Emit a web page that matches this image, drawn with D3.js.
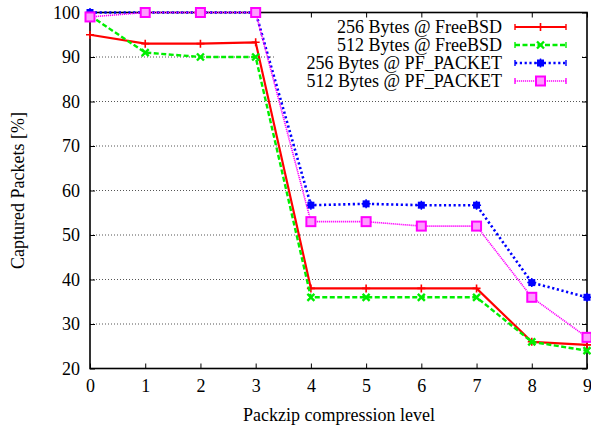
<!DOCTYPE html>
<html><head><meta charset="utf-8">
<script src="https://cdn.jsdelivr.net/npm/d3@7"></script>
<style>body{margin:0;background:#fff}svg{display:block}svg text{font-family:'Liberation Serif','Times New Roman',Times,serif !important;fill:#000}</style>
</head><body><svg id="c" width="591" height="428" style="font-family:'Liberation Serif',serif"></svg>
<script>
const levels = [0,1,2,3,4,5,6,7,8,9];
const xTicks = [0,1,2,3,4,5,6,7,8,9];
const yTicks = [20,30,40,50,60,70,80,90,100];
const seriesNames = ["256 Bytes @ FreeBSD","512 Bytes @ FreeBSD","256 Bytes @ PF_PACKET","512 Bytes @ PF_PACKET"];
const free256 = [95,93,93,93.3,38,38,38,38,26,25.3];
const free512 = [99.3,91,90,90,36,36,36,36,26,24];
const pf256 = [100,100,100,100,56.7,57,56.7,56.7,39.3,36];
const pf512 = [99,100,100,100,53,53,52,52,36,27];

const FONT = "'Liberation Serif','Times New Roman',Times,serif";
const svg = d3.select("#c");
const m = {l:90, r:587, t:12.5, b:368.5};
const x = d3.scaleLinear().domain([0,9]).range([m.l, m.r]);
const y = d3.scaleLinear().domain([20,100]).range([m.b, m.t]);

// grid
const gridVals = yTicks.filter(v => v>20 && v<100);
svg.append("g").selectAll("line").data(gridVals).join("line")
  .attr("x1", m.l).attr("x2", m.r).attr("y1", d=>y(d)).attr("y2", d=>y(d))
  .attr("stroke","#555").attr("stroke-width",1).attr("stroke-dasharray","1,2");
// legend background (opaque)
svg.append("rect").attr("x",276).attr("y",14).attr("width",304).attr("height",76).attr("fill","#fff");

// axes
const fs = 18;
const ax = svg.append("g").attr("transform",`translate(0,${m.b})`)
  .call(d3.axisBottom(x).tickValues(xTicks).tickFormat(d3.format("d")).tickSize(-5).tickPadding(11));
const axT = svg.append("g").attr("transform",`translate(0,${m.t})`)
  .call(d3.axisTop(x).tickValues(xTicks).tickFormat("").tickSize(-5));
const ay = svg.append("g").attr("transform",`translate(${m.l},0)`)
  .call(d3.axisLeft(y).tickValues(yTicks).tickFormat(d3.format("d")).tickSize(-5).tickPadding(10));
const ayR = svg.append("g").attr("transform",`translate(${m.r},0)`)
  .call(d3.axisRight(y).tickValues(yTicks).tickFormat("").tickSize(-5));
[ax,axT,ay,ayR].forEach(g=>{
  g.attr("font-family",FONT).attr("font-size",fs);
  g.select(".domain").remove();
  g.selectAll(".tick line").attr("stroke","#000").attr("stroke-width",1);
  g.selectAll("text").attr("font-size",fs).style("font-family",FONT);
});
svg.append("rect").attr("x",m.l).attr("y",m.t).attr("width",m.r-m.l).attr("height",m.b-m.t)
  .attr("fill","none").attr("stroke","#000").attr("stroke-width",1.6);

const styles = [
  {data:free256, color:"#ff0000", w:2.2, dash:null, mk:"plus"},
  {data:free512, color:"#00ee00", w:2.4, dash:"5,2.5", mk:"cross"},
  {data:pf256, color:"#0000ff", w:2.6, dash:"2.2,2.6", mk:"star"},
  {data:pf512, color:"#ff00ff", w:1.6, dash:"1.2,0.8", mk:"box"}
];
function marker(g, type, color, cx, cy){
  const s = 4;
  if(type==="plus"){
    g.append("path").attr("d",`M${cx-s},${cy}H${cx+s}M${cx},${cy-s}V${cy+s}`).attr("stroke",color).attr("stroke-width",1.6).attr("fill","none");
  } else if(type==="cross"){
    g.append("path").attr("d",`M${cx-3.5},${cy-3.5}L${cx+3.5},${cy+3.5}M${cx-3.5},${cy+3.5}L${cx+3.5},${cy-3.5}`).attr("stroke",color).attr("stroke-width",2.4).attr("fill","none");
  } else if(type==="star"){
    g.append("rect").attr("x",cx-3.5).attr("y",cy-3.5).attr("width",7).attr("height",7).attr("fill",color);
    g.append("path").attr("d",`M${cx-4.5},${cy}H${cx+4.5}M${cx},${cy-4.5}V${cy+4.5}`).attr("stroke",color).attr("stroke-width",1.5);
  } else {
    g.append("rect").attr("x",cx-4.5).attr("y",cy-4.5).attr("width",9).attr("height",9).attr("fill","#ff9cff").attr("stroke",color).attr("stroke-width",2);
  }
}
const line = d3.line().x((d,i)=>x(levels[i])).y(d=>y(d));
styles.forEach(st=>{
  const g = svg.append("g");
  g.append("path").attr("d", line(st.data)).attr("fill","none").attr("stroke",st.color)
    .attr("stroke-width",st.w).attr("stroke-dasharray",st.dash);
  st.data.forEach((v,i)=>marker(g, st.mk, st.color, x(levels[i]), y(v)));
});

// legend
const lg = svg.append("g");
seriesNames.forEach((n,i)=>{
  const st = styles[i];
  const cy = 27 + i*18;
  lg.append("text").attr("x",502).attr("y",cy).attr("dy","0.35em").attr("text-anchor","end")
    .attr("font-size",fs).style("font-family",FONT).text(n);
  lg.append("path").attr("d",`M515,${cy}H566`).attr("stroke",st.color).attr("stroke-width",st.w).attr("stroke-dasharray",st.dash);
  lg.append("path").attr("d",`M515,${cy-3}V${cy+3}M566,${cy-3}V${cy+3}`).attr("stroke",st.color).attr("stroke-width",1.4);
  marker(lg, st.mk, st.color, 540.5, cy);
});

// axis titles
svg.append("text").attr("x",339).attr("y",415).attr("dy","0.35em").attr("text-anchor","middle").attr("font-size",fs).style("font-family",FONT).text("Packzip compression level");
svg.append("text").attr("transform",`translate(18,${(m.t+m.b)/2}) rotate(-90)`).attr("dy","0.35em").attr("text-anchor","middle").attr("font-size",fs).style("font-family",FONT).text("Captured Packets [%]");
</script></body></html>
